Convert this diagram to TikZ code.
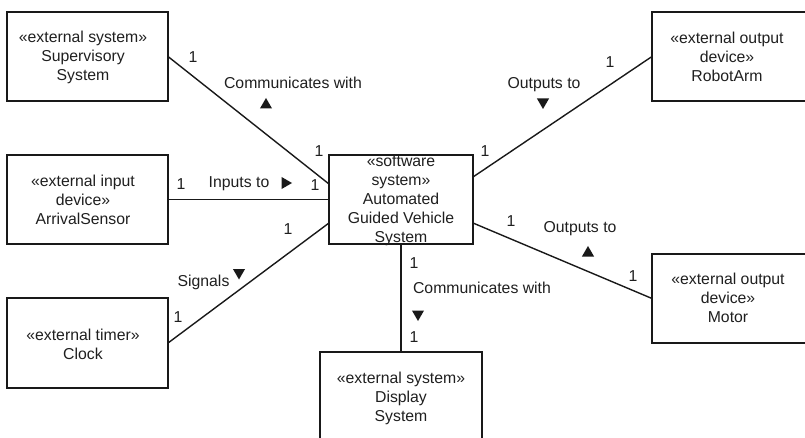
\documentclass[tikz,border=0pt]{standalone}
\usepackage{fontspec}
\setmainfont{Liberation Sans}
\usetikzlibrary{shapes.geometric}
\begin{document}
\begin{tikzpicture}[x=1pt,y=-1pt,
  every node/.style={font=\fontsize{15.8}{19}\selectfont, text=black!88},
  box/.style={draw=black!90, line width=2pt, rectangle, inner sep=0pt, outer sep=0pt},
  boxtext/.style={align=center, inner sep=0pt},
  conn/.style={draw=black!90, line width=1.4pt},
  lbl/.style={inner sep=0pt, anchor=base},
  tri/.style={regular polygon, regular polygon sides=3, fill=black!90, draw=none, minimum size=14pt, inner sep=0pt}
]
\useasboundingbox (0,0) rectangle (805,438);
\begin{scope}
\clip (0,0) rectangle (805,438);
% boxes
\node[box, minimum width=161pt, minimum height=89pt] (sup) at (87.5,56.5) {};
\node[box, minimum width=161pt, minimum height=89pt] (arr) at (87.5,199.5) {};
\node[box, minimum width=161pt, minimum height=90pt] (clk) at (87.5,343) {};
\node[box, minimum width=144pt, minimum height=89pt] (agv) at (401,199.5) {};
\node[box, minimum width=160pt, minimum height=89pt] (rob) at (732,56.5) {};
\node[box, minimum width=160pt, minimum height=89pt] (mot) at (732,298.5) {};
\node[box, minimum width=162pt, minimum height=98pt] (dis) at (401,401) {};
\end{scope}
% box texts
\node[boxtext] (supt) at (83,57) {«external system»\\Supervisory\\System};
\node[boxtext] (arrt) at (83,200) {«external input\\device»\\ArrivalSensor};
\node[boxtext] (clkt) at (83,344) {«external timer»\\Clock};
\node[boxtext] (agvt) at (401,200) {«software\\system»\\Automated\\Guided Vehicle\\System};
\node[boxtext] (robt) at (727,57) {«external output\\device»\\RobotArm};
\node[boxtext] (mott) at (728,298) {«external output\\device»\\Motor};
\node[boxtext] (dist) at (401,398) {«external system»\\Display\\System};
% connectors
\draw[conn] (sup.east) -- ([yshift=15.5pt]agv.west);
\draw[conn] (arr.east) -- (agv.west);
\draw[conn] (clk.east) -- ([yshift=-23.5pt]agv.west);
\draw[conn] ([yshift=22.5pt]agv.east) -- (rob.west);
\draw[conn] ([yshift=-23.5pt]agv.east) -- (mot.west);
\draw[conn] (agv.south) -- (dis.north);
% labels: supervisory
\node[lbl] (m1) at (193,62.5) {1};
\node[lbl] (n1) at (293,88.5) {Communicates with};
\node[tri] (t1) at (266,105) {};
\node[lbl] (m2) at (319,156.5) {1};
% arrival
\node[lbl] (m3) at (181,189.5) {1};
\node[lbl] (n2) at (239,187.5) {Inputs to};
\node[tri, rotate=-90] (t2) at (285,183) {};
\node[lbl] (m4) at (315,190.5) {1};
% clock
\node[lbl] (m5) at (288,234.5) {1};
\node[lbl] (n3) at (203.5,286) {Signals};
\node[tri, rotate=180] (t3) at (239,272.5) {};
\node[lbl] (m6) at (178,322.5) {1};
% robot arm
\node[lbl] (m7) at (610,67.5) {1};
\node[lbl] (n4) at (544,88.5) {Outputs to};
\node[tri, rotate=180] (t4) at (543,102) {};
\node[lbl] (m8) at (485,156.5) {1};
% motor
\node[lbl] (m9) at (511,226.5) {1};
\node[lbl] (n5) at (580,232.5) {Outputs to};
\node[tri] (t5) at (588,253) {};
\node[lbl] (m10) at (633,281.5) {1};
% display
\node[lbl] (m11) at (414,268.5) {1};
\node[lbl] (n6) at (482,293.5) {Communicates with};
\node[tri, rotate=180] (t6) at (418,314) {};
\node[lbl] (m12) at (414,342.5) {1};
\end{tikzpicture}
\end{document}
